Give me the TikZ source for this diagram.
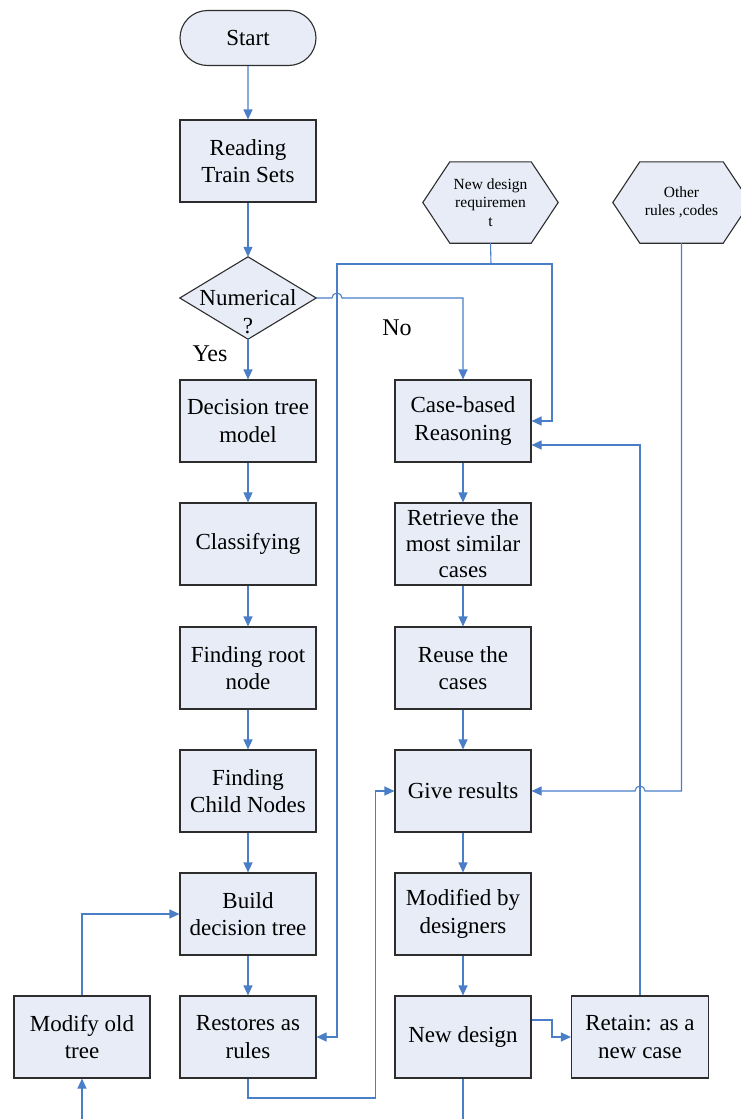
\documentclass[tikz,border=0pt]{standalone}
\usepackage{fontspec}
\setmainfont{Liberation Serif}
\usetikzlibrary{arrows.meta,shapes.misc,backgrounds}

\definecolor{boxfill}{RGB}{231,236,247}
\definecolor{boxline}{RGB}{45,45,45}
\definecolor{flowblue}{RGB}{74,126,199}

\tikzset{
  box/.style={draw=boxline, fill=boxfill, line width=1.1pt, minimum width=136pt,
    minimum height=82pt, inner sep=0pt, align=center,
    font=\fontsize{23}{27.5}\selectfont},
  term/.style={rounded rectangle, draw=boxline, fill=boxfill, line width=1.1pt,
    minimum width=136pt, minimum height=55pt, inner sep=0pt,
    font=\fontsize{23}{27.5}\selectfont},
  frame/.style={minimum width=#1, minimum height=81pt, inner sep=0pt, align=center,
    font=\fontsize{15.5}{18.5}\selectfont},
  shapefill/.style={draw=boxline, fill=boxfill, line width=1.1pt, line join=miter},
  flow/.style={draw=flowblue, line width=1.1pt, -{Triangle[length=10pt,width=9pt]}},
  link/.style={draw=flowblue, line width=1.1pt},
  answer/.style={font=\fontsize{24}{28}\selectfont},
}

\begin{document}
\begin{tikzpicture}[x=1pt,y=-1pt]
\useasboundingbox (0,0) rectangle (741,1119);

% main chain of the decision-tree branch
\node[term] (start) at (248,38) {Start};
\node[box] (read) at (248,161) {Reading\\Train Sets};
\node[minimum width=136pt, minimum height=82pt, inner sep=0pt] (num) at (248,298) {};
\node[align=center, font=\fontsize{23}{28}\selectfont] (numtxt) at (248,312) {Numerical\\?};
\node[box] (dtm) at (248,421) {Decision tree\\model};
\node[box] (cls) at (248,544) {Classifying};
\node[box] (root) at (248,668) {Finding root\\node};
\node[box] (child) at (248,791) {Finding\\Child Nodes};
\node[box] (build) at (248,914) {Build\\decision tree};
\node[box] (rules) at (248,1037) {Restores as\\rules};
\node[box] (mod) at (82,1037) {Modify old\\tree};

% case-based branch
\node[box] (cbr) at (463,421) {Case-based\\Reasoning};
\node[box, font=\fontsize{23}{26}\selectfont] (retr) at (463,544) {Retrieve the\\most similar\\cases};
\node[box] (reuse) at (463,668) {Reuse the\\cases};
\node[box] (give) at (463,791) {Give results};
\node[box] (modd) at (463,914) {Modified by\\designers};
\node[box] (newd) at (463,1037) {New design};
\node[box, minimum width=137pt] (ret) at (640,1037) {Retain: as a\\new case};

% external inputs
\node[frame=135pt] (ndr) at (490.5,202.5) {New design\\requiremen\\t};
\node[frame=137pt] (oth) at (681.5,202.5) {Other\\rules ,codes};

\begin{scope}[on background layer]
  \draw[shapefill] (num.north) -- (num.east) -- (num.south) -- (num.west) -- cycle;
  \foreach \h in {ndr,oth}{
    \draw[shapefill] (\h.west) -- ([xshift=27pt]\h.north west) -- ([xshift=-27pt]\h.north east)
      -- (\h.east) -- ([xshift=-27pt]\h.south east) -- ([xshift=27pt]\h.south west) -- cycle;
  }
\end{scope}

\node[answer] (yes) at (210,354) {Yes};
\node[answer] (no) at (397,328) {No};

% straight connectors
\draw[flow] (start) -- (read);
\draw[flow] (read) -- (num.north);
\draw[flow] (num.south) -- (dtm);
\draw[flow] (dtm) -- (cls);
\draw[flow] (cls) -- (root);
\draw[flow] (root) -- (child);
\draw[flow] (child) -- (build);
\draw[flow] (build) -- (rules);
\draw[flow] (cbr) -- (retr);
\draw[flow] (retr) -- (reuse);
\draw[flow] (reuse) -- (give);
\draw[flow] (give) -- (modd);
\draw[flow] (modd) -- (newd);

% "No" branch, hopping over the requirement line
\draw[flow] (num.east) -- (332,298) arc[start angle=180, end angle=0, radius=5pt] -| (cbr.north);

% design requirement feeds both branches
\coordinate (split) at (491,264);
\draw[link] (ndr.south) -- (split);
\draw[flow] (split) -- (552,264) |- (cbr.east);
\draw[flow] (split) -- (337,264) |- (rules.east);

% other rules into results, hopping over the retain loop
\draw[flow] (oth.south) |- (645,791) arc[start angle=0, end angle=180, radius=5pt] -- (give.east);

% retained case returns to reasoning
\draw[flow] (ret.north) |- ([yshift=-24pt]cbr.east);

% stored rules feed the results
\draw[flow] (rules.south) -- (248,1098) -| ([xshift=-19pt]give.west) -- (give.west);

% old tree modification
\coordinate (modin) at (82,1119);
\draw[flow] (modin) -- (mod.south);
\draw[flow] (mod.north) |- (build.west);

% new design outputs
\coordinate (nout) at (463,1119);
\draw[link] (newd.south) -- (nout);
\draw[flow] ([yshift=17pt]newd.east) -- (552,1020) |- (ret.west);
\end{tikzpicture}
\end{document}
